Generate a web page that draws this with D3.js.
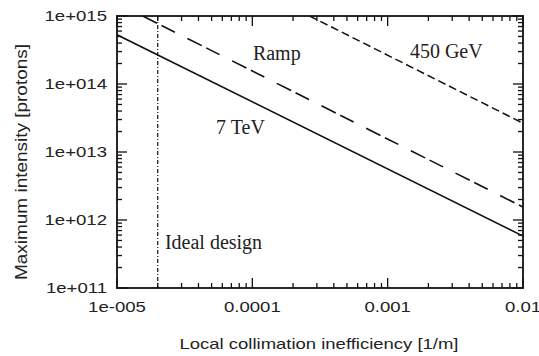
<!DOCTYPE html>
<html>
<head>
<meta charset="utf-8">
<script src="https://cdn.jsdelivr.net/npm/d3@7"></script>
<style>
    body { margin: 0; background: #fff; }
    .tick-label { font-family: 'Liberation Sans', Arial, sans-serif; font-size: 14.5px; fill: #222; }
    .axis-title { font-family: 'Liberation Sans', Arial, sans-serif; fill: #222; }
    .note { font-family: 'Liberation Serif', 'Times New Roman', serif; font-size: 20px; fill: #222; }
</style>
</head>
<body>
<svg id="chart" width="539" height="356"></svg>
<script>
// x: local collimation inefficiency [1/m], y: maximum intensity [protons]
const X_TICKS = [1e-5, 1e-4, 1e-3, 1e-2]
const X_TICK_LABELS = ['1e-005', '0.0001', '0.001', '0.01']
const Y_TICKS = [1e11, 1e12, 1e13, 1e14, 1e15]
const Y_TICK_LABELS = ['1e+011', '1e+012', '1e+013', '1e+014', '1e+015']

const TEV7 = [[1e-5, 5.3e14], [1e-2, 5.8e11]]
const RAMP = [[1.55e-5, 1e15], [1e-2, 1.55e12]]
const GEV450 = [[2.65e-4, 1e15], [1e-2, 2.65e13]]
const IDEAL_X = 2e-5

const NOTE_TEXT = ['Ramp', '450 GeV', '7 TeV', 'Ideal design']
const NOTE_X = [1.01e-4, 1.46e-3, 5.4e-5, 2.26e-5]
const NOTE_Y = [2.24e14, 2.4e14, 1.86e13, 3.77e11]

const margin = { top: 16, right: 16, bottom: 68, left: 117 }
const svg = d3.select('#chart')
const W = +svg.attr('width') - margin.left - margin.right
const H = +svg.attr('height') - margin.top - margin.bottom

const x = d3.scaleLog().domain([1e-5, 1e-2]).range([0, W])
const y = d3.scaleLog().domain([1e11, 1e15]).range([H, 0])

const g = svg.append('g').attr('transform', 'translate(' + margin.left + ',' + margin.top + ')')

g.append('clipPath').attr('id', 'clip')
    .append('rect').attr('width', W).attr('height', H)

// minor ticks 2..9 per decade
const minor = (lo, hi) => {
    let out = []
    for (let e = lo; e < hi; e++) {
        for (let k = 2; k <= 9; k++) out.push(k * Math.pow(10, e))
    }
    return out
}
const xMinor = minor(-5, -2)
const yMinor = minor(11, 15)

const MAJOR = 10, MINOR = 5
const tickG = g.append('g').attr('stroke', '#111').attr('stroke-width', 1.3)

X_TICKS.concat(xMinor).forEach((v) => {
    let len = X_TICKS.includes(v) ? MAJOR : MINOR
    tickG.append('line').attr('x1', x(v)).attr('x2', x(v)).attr('y1', H).attr('y2', H - len)
    tickG.append('line').attr('x1', x(v)).attr('x2', x(v)).attr('y1', 0).attr('y2', len)
})
Y_TICKS.concat(yMinor).forEach((v) => {
    let len = Y_TICKS.includes(v) ? MAJOR : MINOR
    tickG.append('line').attr('y1', y(v)).attr('y2', y(v)).attr('x1', 0).attr('x2', len)
    tickG.append('line').attr('y1', y(v)).attr('y2', y(v)).attr('x1', W).attr('x2', W - len)
})

// stretch text horizontally like the scanned figure
const stretch = (sel, k) => {
    sel.each(function () {
        let n = this.getComputedTextLength()
        d3.select(this).attr('textLength', n * k).attr('lengthAdjust', 'spacingAndGlyphs')
    })
}

g.selectAll('.xl').data(X_TICKS).enter().append('text')
    .attr('class', 'tick-label')
    .attr('x', (d) => x(d))
    .attr('y', H + 24)
    .attr('text-anchor', 'middle')
    .text((d, i) => X_TICK_LABELS[i])
    .call(stretch, 1.28)

g.selectAll('.yl').data(Y_TICKS).enter().append('text')
    .attr('class', 'tick-label')
    .attr('x', -10)
    .attr('y', (d) => y(d) + 5)
    .attr('text-anchor', 'end')
    .text((d, i) => Y_TICK_LABELS[i])
    .call(stretch, 1.28)

g.append('text')
    .attr('class', 'axis-title')
    .attr('font-size', 15)
    .attr('x', W / 2 - 1)
    .attr('y', H + 61)
    .attr('text-anchor', 'middle')
    .attr('textLength', 279)
    .attr('lengthAdjust', 'spacingAndGlyphs')
    .text('Local collimation inefficiency [1/m]')

g.append('text')
    .attr('class', 'axis-title')
    .attr('font-size', 17)
    .attr('transform', 'translate(-90,' + (H / 2 + 10) + ') rotate(-90)')
    .attr('text-anchor', 'middle')
    .attr('textLength', 236)
    .attr('lengthAdjust', 'spacingAndGlyphs')
    .text('Maximum intensity [protons]')

// curves
const line = d3.line().x((d) => x(d[0])).y((d) => y(d[1]))
const plot = g.append('g').attr('clip-path', 'url(#clip)').attr('fill', 'none').attr('stroke', '#111')

plot.append('path').datum(TEV7).attr('d', line).attr('stroke-width', 1.6)
plot.append('path').datum(RAMP).attr('d', line).attr('stroke-width', 1.6).attr('stroke-dasharray', '16,5,15,14')
plot.append('path').datum(GEV450).attr('d', line).attr('stroke-width', 1.5).attr('stroke-dasharray', '8,4')
plot.append('line')
    .attr('x1', x(IDEAL_X)).attr('x2', x(IDEAL_X))
    .attr('y1', 0).attr('y2', H)
    .attr('stroke-width', 1.2).attr('stroke-dasharray', '4,2,1,2')

g.selectAll('.note').data(NOTE_TEXT).enter().append('text')
    .attr('class', 'note')
    .attr('x', (d, i) => x(NOTE_X[i]))
    .attr('y', (d, i) => y(NOTE_Y[i]))
    .text((d) => d)

// frame
g.append('rect').attr('width', W).attr('height', H)
    .attr('fill', 'none').attr('stroke', '#111').attr('stroke-width', 1.8)
</script>
</body>
</html>
